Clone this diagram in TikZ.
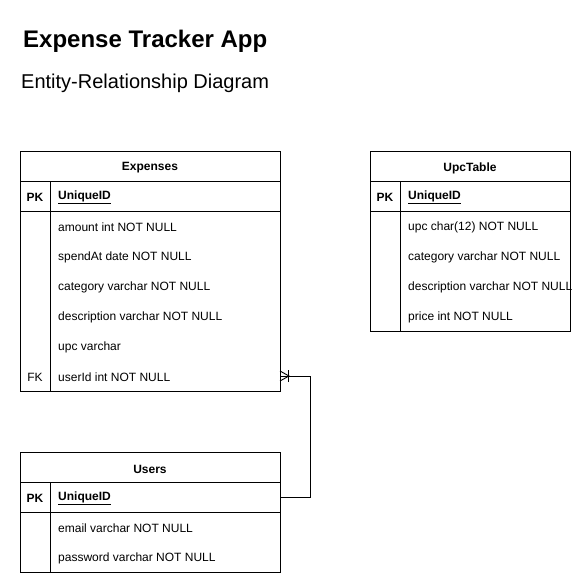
\documentclass[tikz,border=0pt]{standalone}
\usepackage{fontspec}
\setmainfont{Liberation Sans}
\begin{document}
\begin{tikzpicture}[x=1pt,y=-1pt,
  box/.style={draw, line width=0.9pt, inner sep=0pt, anchor=north west},
  hdrtxt/.style={font=\bfseries\fontsize{12}{14}\selectfont, inner sep=0pt, yshift=-2pt},
  keytxt/.style={font=\bfseries\fontsize{12}{14}\selectfont, inner sep=0pt, yshift=-1.5pt},
  celltxt/.style={anchor=west, font=\fontsize{12}{14}\selectfont, inner sep=0pt, yshift=-1.5pt},
  idtxt/.style={anchor=west, font=\bfseries\fontsize{12}{14}\selectfont, inner sep=0pt, yshift=-1.5pt},
  conn/.style={line width=0.9pt}]
\useasboundingbox (0,0) rectangle (581,583);
% titles
\node[anchor=west, inner sep=0pt, font=\bfseries\fontsize{24}{28}\selectfont] (title) at (23,41) {Expense Tracker App};
\node[anchor=west, inner sep=0pt, font=\fontsize{20}{24}\selectfont] (subtitle) at (21,83) {Entity-Relationship Diagram};

% Expenses
\node[box, minimum width=260pt, minimum height=30pt] (expH) at (20,151) {};
\node[box, minimum width=260pt, minimum height=30pt] (expPK) at (20,181) {};
\node[box, minimum width=260pt, minimum height=180pt] (expB) at (20,211) {};
\draw[line width=0.9pt] (50,181) -- (50,391);
\node[hdrtxt] (expT) at (150,166) {Expenses};
\node[keytxt] (expK1) at (35,196) {PK};
\node[idtxt] (expId) at (58,196) {\underline{UniqueID}};
\node[celltxt] (e1) at (58,226) {amount int NOT NULL};
\node[celltxt] (e2) at (58,256) {spendAt date NOT NULL};
\node[celltxt] (e3) at (58,286) {category varchar NOT NULL};
\node[celltxt] (e4) at (58,316) {description varchar NOT NULL};
\node[celltxt] (e5) at (58,346) {upc varchar};
\node[celltxt, anchor=center] (expK2) at (35,376) {FK};
\node[celltxt] (e6) at (58,376) {userId int NOT NULL};
\coordinate (expFK) at (280,376);

% UpcTable
\node[box, minimum width=200pt, minimum height=30pt] (upcH) at (370,151) {};
\node[box, minimum width=200pt, minimum height=30pt] (upcPK) at (370,181) {};
\node[box, minimum width=200pt, minimum height=120pt] (upcB) at (370,211) {};
\draw[line width=0.9pt] (400,181) -- (400,331);
\node[hdrtxt] (upcT) at (470,166) {UpcTable};
\node[keytxt] (upcK1) at (385,196) {PK};
\node[idtxt] (upcId) at (408,196) {\underline{UniqueID}};
\node[celltxt] (u1) at (408,226) {upc char(12) NOT NULL};
\node[celltxt] (u2) at (408,256) {category varchar NOT NULL};
\node[celltxt] (u3) at (408,286) {description varchar NOT NULL};
\node[celltxt] (u4) at (408,316) {price int NOT NULL};

% Users
\node[box, minimum width=260pt, minimum height=30pt] (usrH) at (20,452) {};
\node[box, minimum width=260pt, minimum height=30pt] (usrPK) at (20,482) {};
\node[box, minimum width=260pt, minimum height=60pt] (usrB) at (20,512) {};
\draw[line width=0.9pt] (50,482) -- (50,572);
\node[hdrtxt] (usrT) at (150,467) {Users};
\node[keytxt] (usrK1) at (35,497) {PK};
\node[idtxt] (usrId) at (58,497) {\underline{UniqueID}};
\node[celltxt] (s1) at (58,527) {email varchar NOT NULL};
\node[celltxt] (s2) at (58,557) {password varchar NOT NULL};

% connector
\draw[conn] (usrPK.east) -- ++(30,0) |- (expFK);
% crow's foot (one or many)
\draw[conn] ([yshift=-5pt]expFK) -- ([xshift=9pt]expFK) -- ([yshift=5pt]expFK);
\draw[conn] ([xshift=8pt,yshift=-6pt]expFK) -- ([xshift=8pt,yshift=6pt]expFK);
\end{tikzpicture}
\end{document}
